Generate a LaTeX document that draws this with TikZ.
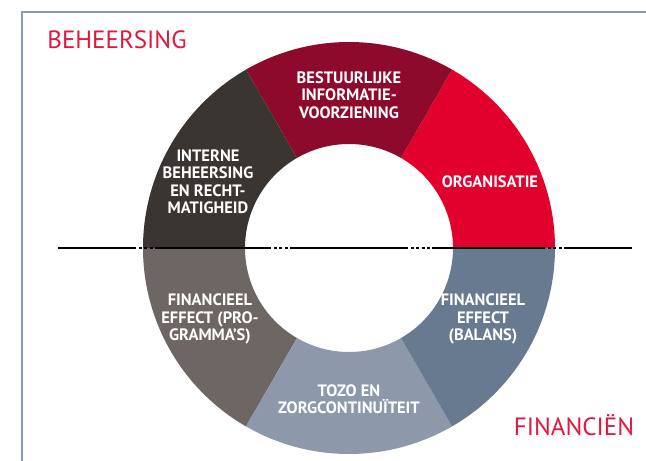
\documentclass[tikz,border=0pt]{standalone}
\usepackage{fontspec}
\setmainfont{PT Sans}

\definecolor{titelrood}{HTML}{E3173E}
\definecolor{kaderblauw}{HTML}{8A9BB0}
\definecolor{organisatie}{HTML}{E2002D}
\definecolor{bestuurlijk}{HTML}{8E0A2C}
\definecolor{intern}{HTML}{3B3532}
\definecolor{programma}{HTML}{6E6662}
\definecolor{tozo}{HTML}{8D99AB}
\definecolor{balans}{HTML}{687A8F}

\begin{document}
\begin{tikzpicture}[x=1pt, y=1pt, line width=1.5pt,
    seg label/.style={text=white, align=center, inner sep=0pt, font=\bfseries\fontsize{16.5}{17.5}\selectfont},
    kop/.style={text=titelrood, inner sep=0pt, font=\fontsize{25}{27}\selectfont},
    dotline/.style={dash pattern=on 3pt off 2.5pt}]

    \useasboundingbox (0,0) rectangle (646,461);

    % kader links en boven
    \coordinate (kader onder) at (22,0);
    \coordinate (kader rechts) at (646,449);
    \draw[kaderblauw] (kader onder) |- (kader rechts);

    \begin{scope}[shift={(349,213)}]
        \fill[organisatie] (0:104) arc (0:60:104) -- (60:206) arc (60:0:206) -- cycle;
        \fill[bestuurlijk] (60:104) arc (60:120:104) -- (120:206) arc (120:60:206) -- cycle;
        \fill[intern] (120:104) arc (120:180:104) -- (180:206) arc (180:120:206) -- cycle;
        \fill[programma] (180:104) arc (180:240:104) -- (240:206) arc (240:180:206) -- cycle;
        \fill[tozo] (240:104) arc (240:300:104) -- (300:206) arc (300:240:206) -- cycle;
        \fill[balans] (300:104) arc (300:360:104) -- (360:206) arc (360:300:206) -- cycle;
    \end{scope}

    % scheidingslijn beheersing / financien
    \coordinate (l0) at (58,213);
    \coordinate (l1) at (133,213);
    \coordinate (l2) at (158,213);
    \coordinate (l3) at (268,213);
    \coordinate (l4) at (293,213);
    \coordinate (l5) at (405,213);
    \coordinate (l6) at (432,213);
    \coordinate (l7) at (542,213);
    \coordinate (l8) at (567,213);
    \coordinate (l9) at (632,213);
    \draw (l0) -- (l1);
    \draw[dotline] (l1) -- (l2);
    \draw (l2) -- (l3);
    \draw[dotline] (l3) -- (l4);
    \draw (l4) -- (l5);
    \draw[dotline] (l5) -- (l6);
    \draw (l6) -- (l7);
    \draw[dotline] (l7) -- (l8);
    \draw (l8) -- (l9);

    \node[seg label] (org) at (490,279) {ORGANISATIE};
    \node[seg label] (biv) at (349,366) {BESTUURLIJKE\\INFORMATIE-\\VOORZIENING};
    \node[seg label] (ibr) at (208,279) {INTERNE\\BEHEERSING\\EN RECHT-\\MATIGHEID};
    \node[seg label] (fep) at (210,142) {FINANCIEEL\\EFFECT (PRO-\\GRAMMA'S)};
    \node[seg label] (tozo) at (349,62) {TOZO EN\\ZORGCONTINUÏTEIT};
    \node[seg label] (feb) at (483,142) {FINANCIEEL\\EFFECT\\(BALANS)};

    \node[kop] (beh) at (117,421) {BEHEERSING};
    \node[kop] (fin) at (574,36) {FINANCIËN};
\end{tikzpicture}
\end{document}
